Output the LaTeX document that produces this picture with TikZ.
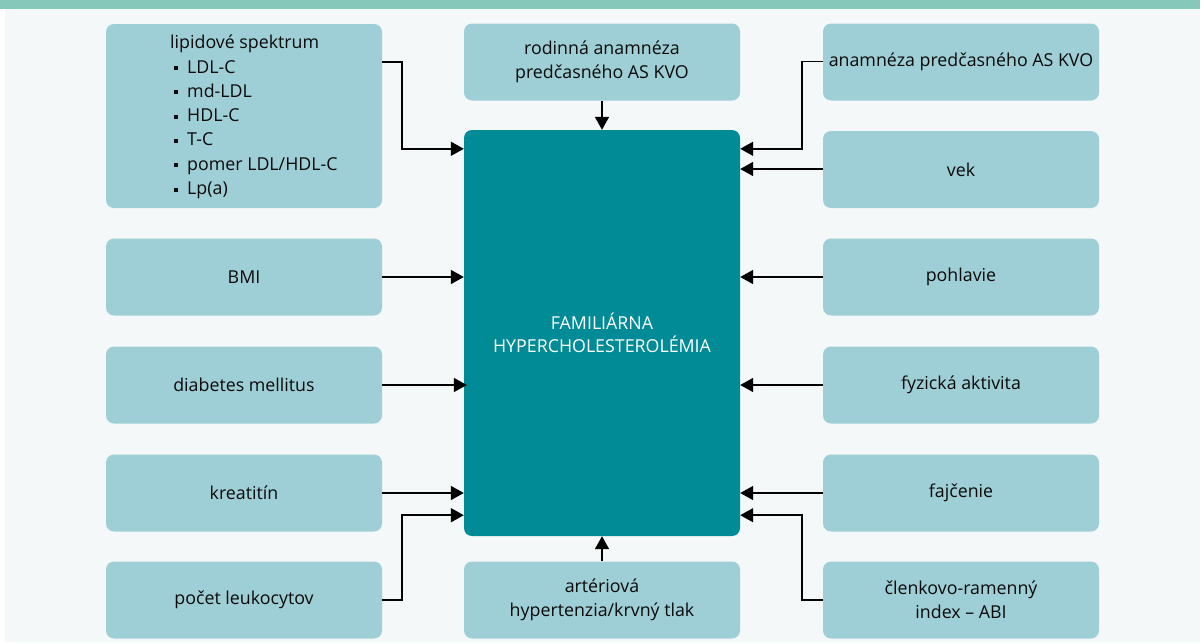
\documentclass[tikz,border=0pt]{standalone}
\usepackage{fontspec}
\setmainfont{Open Sans}
\usetikzlibrary{arrows.meta,calc}
\definecolor{boxc}{HTML}{9ECFD6}
\definecolor{mainc}{HTML}{008B96}
\definecolor{bgc}{HTML}{F5F8F8}
\definecolor{barc}{HTML}{86C9BA}
\definecolor{txtc}{HTML}{0A0A0A}
\tikzset{
  box/.style={fill=boxc, rounded corners=8pt, minimum width=276pt, minimum height=77pt,
    inner sep=0pt, align=center, text=txtc, font=\fontsize{17.8}{24}\selectfont},
  mainbox/.style={fill=mainc, rounded corners=8pt, minimum width=276pt, minimum height=406pt,
    inner sep=0pt, align=center, text=white, font=\fontsize{17.8}{23.5}\selectfont},
  arr/.style={line width=1.6pt, draw=black, -{Triangle[length=13pt,width=14pt]}},
}
\newcommand{\sqbul}{\rule[0.32ex]{4pt}{4pt}\hspace{9pt}}
\begin{document}
\begin{tikzpicture}[x=1pt,y=-1pt]
\useasboundingbox (0,0) rectangle (1204,643);
\fill[white] (0,0) rectangle (1204,643);
\fill[bgc] (5,8) rectangle (1200,642);
\fill[barc] (0,0) rectangle (1200,8.7);

% left column
\node[box, minimum height=184pt] (lipid) at (244,116) {};
\node[anchor=west, align=left, inner sep=0pt, text=txtc, font=\fontsize{17.8}{24.3}\selectfont] (liptext) at (170,117)
  {lipidové spektrum\\[0pt]
   \hspace*{4pt}\sqbul LDL-C\\
   \hspace*{4pt}\sqbul md-LDL\\
   \hspace*{4pt}\sqbul HDL-C\\
   \hspace*{4pt}\sqbul T-C\\
   \hspace*{4pt}\sqbul pomer LDL/HDL-C\\
   \hspace*{4pt}\sqbul Lp(a)};
\node[box] (bmi) at (244,277) {BMI};
\node[box] (dm) at (244,385) {diabetes mellitus};
\node[box] (krea) at (244,493) {kreatitín};
\node[box] (leu) at (244,600) {počet leukocytov};

% middle column
\node[box] (rod) at (602,62) {rodinná anamnéza\\predčasného AS KVO};
\node[mainbox] (main) at (602,333) {FAMILIÁRNA\\HYPERCHOLESTEROLÉMIA};
\node[box] (art) at (602,600) {artériová\\hypertenzia/krvný tlak};

% right column
\node[box] (ana) at (961,62) {anamnéza predčasného AS KVO};
\node[box] (vek) at (961,169.5) {vek};
\node[box] (poh) at (961,277) {pohlavie};
\node[box] (fyz) at (961,385) {fyzická aktivita};
\node[box] (faj) at (961,493) {fajčenie};
\node[box] (abi) at (961,600) {členkovo-ramenný\\index – ABI};

% connectors left
\draw[arr] ([yshift=-38pt]lipid.north east) -- ++(20,0) |- ([yshift=-19pt]main.north west);
\draw[arr] (bmi.east) -- (bmi.east -| main.west);
\draw[arr, shorten >=-3pt] (dm.east) -- (dm.east -| main.west);
\draw[arr] (krea.east) -- (krea.east -| main.west);
\draw[arr] (leu.east) -- ++(20,0) |- ([yshift=21pt]main.south west);

% connectors middle
\draw[arr] (rod.south) -- (main.north);
\draw[arr] (art.north) -- (main.south);

% connectors right
\draw[arr] ([yshift=-38pt]ana.north west) -- ++(-21,0) |- ([yshift=-19pt]main.north east);
\draw[arr] ([yshift=0.5pt]vek.west) -- ([yshift=0.5pt]vek.west -| main.east);
\draw[arr] (poh.west) -- (poh.west -| main.east);
\draw[arr] (fyz.west) -- (fyz.west -| main.east);
\draw[arr] (faj.west) -- (faj.west -| main.east);
\draw[arr] (abi.west) -- ++(-21,0) |- ([yshift=21pt]main.south east);
\end{tikzpicture}
\end{document}
